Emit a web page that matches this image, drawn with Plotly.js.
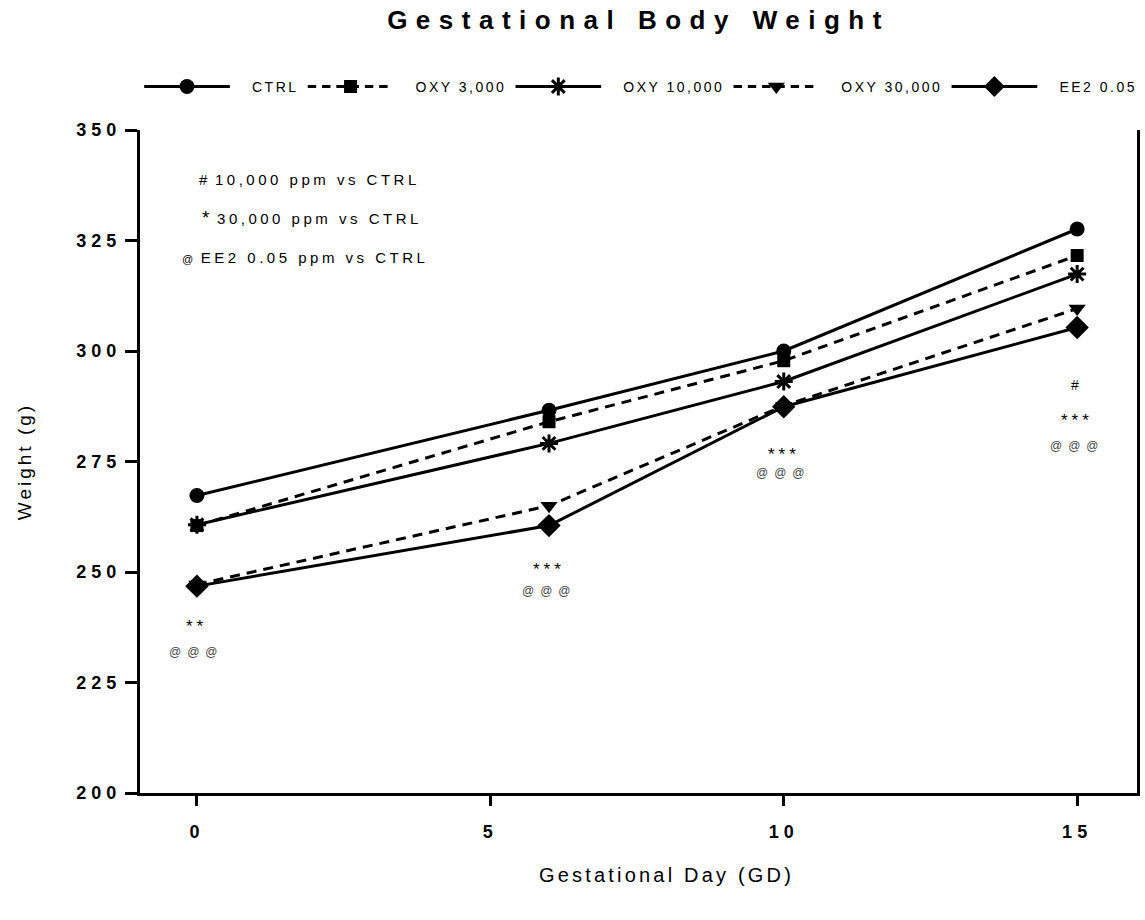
<!DOCTYPE html>
<html>
<head>
<meta charset="utf-8">
<script src="https://cdn.plot.ly/plotly-3.0.1.min.js"></script>
<style>
  html, body { margin: 0; padding: 0; background: #fff; }
  #chart { width: 1145px; height: 920px; }
  .gtitle { letter-spacing: 8.5px; }
  .xtick text, .ytick text { letter-spacing: 5px; }
  .xtitle { letter-spacing: 3.2px; transform: translateX(28px); }
  .ytitle { letter-spacing: 3px; }
  .legendtext { letter-spacing: 2.5px; }
  /* legend sample: shorten the line and centre the marker on it */
  .legend .legendlines path { transform: scaleX(0.84); }
  .legend .legendsymbols path.scatterpts { transform: translate(47px, 0px); }
</style>
</head>
<body>
<div id="chart"></div>
<script>
// ---- data ----
var days = [0, 6, 10, 15];
var seriesNames = ['CTRL', 'OXY 3,000', 'OXY 10,000', 'OXY 30,000', 'EE2 0.05'];
var ctrl     = [267.3, 286.6, 300.0, 327.6];
var oxy3000  = [260.5, 284.0, 297.8, 321.6];
var oxy10000 = [260.7, 279.1, 293.1, 317.4];
var oxy30000 = [247.2, 265.0, 287.6, 309.6];
var ee2      = [246.8, 260.5, 287.4, 305.3];

var xTickVals = [0, 5, 10, 15];
var yTickVals = [200, 225, 250, 275, 300, 325, 350];

// significance marks
var statX    = [0, 0, 6, 6, 10, 10, 15, 15, 15];
var statY    = [237.6, 232.0, 250.5, 245.8, 276.6, 272.3, 292.2, 284.3, 278.6];
var statText = ['**', '@@@', '***', '@@@', '***', '@@@', '#', '***', '@@@'];

// key notes
var noteSymbols = ['#', '*', '@'];
var noteTexts   = ['10,000 ppm vs CTRL', '30,000 ppm vs CTRL', 'EE2 0.05 ppm vs CTRL'];
var noteX       = [0, 0.05, -0.29];
var noteY       = [338.7, 330.1, 321.2];

// ---- styling ----
var FONT = 'Liberation Sans, Arial, sans-serif';
var seriesData = [ctrl, oxy3000, oxy10000, oxy30000, ee2];
var dashes  = ['solid', '10px,7px', 'solid', '10px,7px', 'solid'];
var symbols = ['circle', 'square', 'asterisk-open', 'triangle-down', 'diamond'];
var sizes   = [15, 13, 15, 15, 18];

var traces = seriesData.map(function (vals, i) {
  return {
    type: 'scatter', mode: 'lines+markers',
    x: days, y: vals, name: seriesNames[i],
    line: { color: '#000', width: 3, dash: dashes[i] },
    marker: { symbol: symbols[i], size: sizes[i], color: '#000',
              line: { color: '#000', width: symbols[i] === 'asterisk-open' ? 3 : 0 } }
  };
});

var annotations = [];
statText.forEach(function (t, i) {
  var isAt = t.indexOf('@') >= 0;
  var isHash = t === '#';
  annotations.push({
    x: statX[i], y: statY[i], xref: 'x', yref: 'y', showarrow: false,
    text: '<span style="letter-spacing:' + (isAt ? 6 : 4) + 'px">' + t + '</span>',
    font: { family: FONT, size: isAt ? 12 : (isHash ? 14 : 17), color: isAt ? '#444' : '#000' },
    xanchor: 'center', yanchor: 'middle'
  });
});
noteTexts.forEach(function (t, i) {
  var sym = noteSymbols[i];
  var symSize = sym === '*' ? 19 : (sym === '@' ? 11 : 15);
  annotations.push({
    x: noteX[i], y: noteY[i], xref: 'x', yref: 'y', showarrow: false,
    xanchor: 'left', yanchor: 'middle',
    text: '<span style="font-size:' + symSize + 'px">' + sym + '</span>' +
          '<span style="letter-spacing:3.5px"> ' + t + '</span>',
    font: { family: FONT, size: 15, color: '#000' }
  });
});

var layout = {
  width: 1145, height: 920,
  paper_bgcolor: '#fff', plot_bgcolor: '#fff',
  margin: { l: 140, r: 8, t: 130, b: 127, pad: 0 },
  title: {
    text: '<b>Gestational Body Weight</b>',
    font: { family: FONT, size: 26, color: '#000' },
    x: 0.5, xref: 'paper', xanchor: 'center',
    y: 0.978, yref: 'container', yanchor: 'middle'
  },
  showlegend: true,
  legend: {
    orientation: 'h', x: 0.0, xanchor: 'left', y: 1.065, yanchor: 'middle',
    itemwidth: 102, font: { family: FONT, size: 14, color: '#000' },
    bgcolor: 'rgba(0,0,0,0)', borderwidth: 0, traceorder: 'normal'
  },
  xaxis: {
    range: [-0.97, 16.02], tickmode: 'array', tickvals: xTickVals,
    showline: true, linewidth: 3, linecolor: '#000', mirror: false,
    ticks: 'outside', ticklen: 10, tickwidth: 3, tickcolor: '#000',
    showgrid: false, zeroline: false,
    tickfont: { family: FONT, size: 18, color: '#000', weight: 'bold' },
    ticklabelstandoff: 10,
    title: { text: 'Gestational Day (GD)', font: { family: FONT, size: 20, color: '#000' }, standoff: 28 }
  },
  yaxis: {
    range: [200, 350], tickmode: 'array', tickvals: yTickVals,
    showline: true, linewidth: 3, linecolor: '#000', mirror: true,
    ticks: 'outside', ticklen: 12, tickwidth: 3, tickcolor: '#000',
    showgrid: false, zeroline: false,
    tickfont: { family: FONT, size: 18, color: '#000', weight: 'bold' },
    ticklabelstandoff: 0,
    title: { text: 'Weight (g)', font: { family: FONT, size: 19, color: '#000' }, standoff: 40 }
  },
  annotations: annotations
};

Plotly.newPlot('chart', traces, layout, { displayModeBar: false, staticPlot: true });
</script>
</body>
</html>
